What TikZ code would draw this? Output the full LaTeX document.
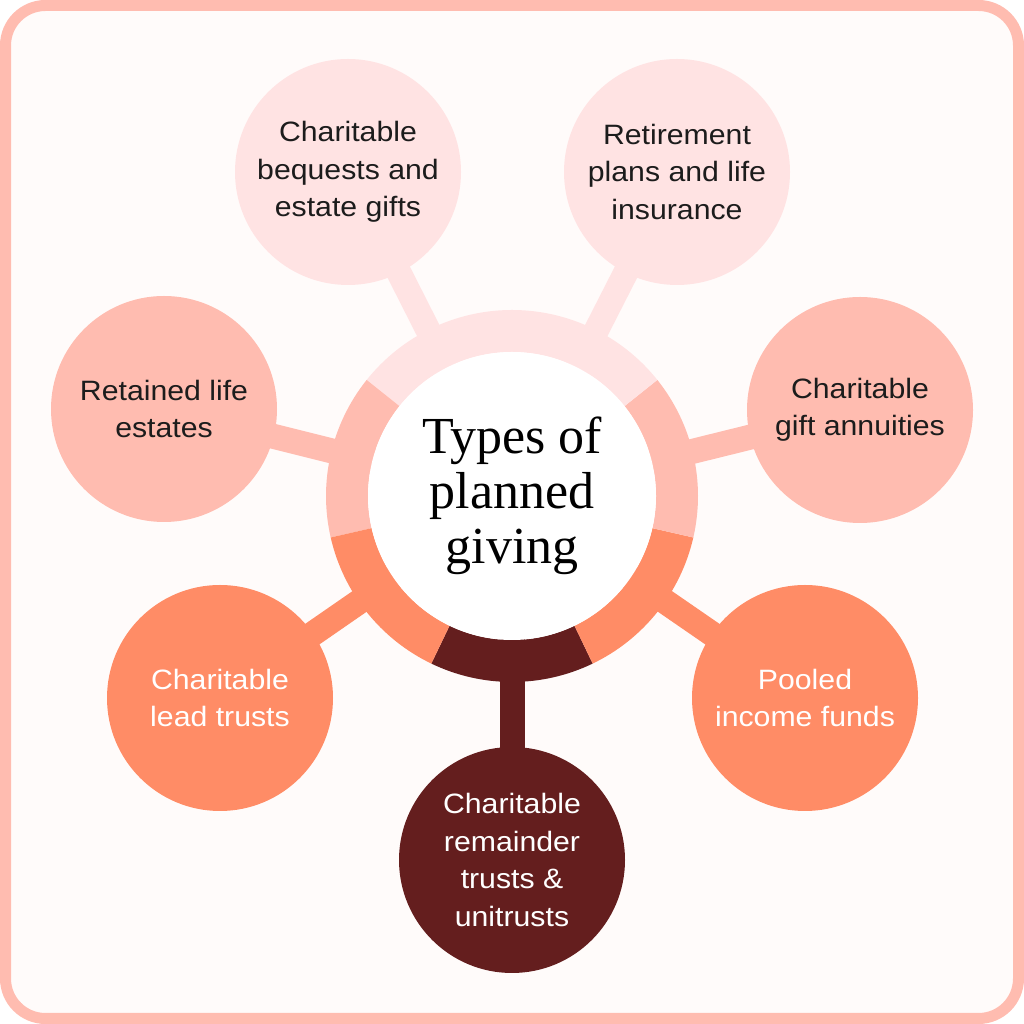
\documentclass[tikz,border=0pt]{standalone}
\usepackage{fontspec}
\setmainfont{Liberation Serif}
\newfontfamily\labelfont[FakeStretch=1.08]{Liberation Sans}
\usetikzlibrary{backgrounds}
\definecolor{clight}{HTML}{FFE3E3}
\definecolor{cmed}{HTML}{FFBCB0}
\definecolor{corange}{HTML}{FF8C66}
\definecolor{cdark}{HTML}{641E1E}
\definecolor{bgpink}{HTML}{FFFBFA}
\definecolor{textdark}{HTML}{1C1C1C}
\tikzset{
  bubble/.style={circle, minimum size=226pt, inner sep=0pt, align=center,
    font=\labelfont\fontsize{28}{37.5}\selectfont, text=textdark},
  hub/.style={circle, minimum size=288pt, inner sep=0pt, align=center, fill=white,
    font=\fontsize{52}{55}\selectfont, text=black},
  bar/.style={line width=25pt},
}
\begin{document}
\begin{tikzpicture}[x=1pt,y=1pt]
\useasboundingbox (0,0) rectangle (1024,1024);
% outer nodes
\node[bubble, fill=clight] (beq) at (348,852) {Charitable\\bequests and\\estate gifts};
\node[bubble, fill=clight] (ret) at (677,852) {Retirement\\plans and life\\insurance};
\node[bubble, fill=cmed] (gift) at (860,614) {Charitable\\gift annuities};
\node[bubble, fill=cmed] (rle) at (164,615) {Retained life\\estates};
\node[bubble, fill=corange, text=white] (lead) at (220,326) {Charitable\\lead trusts};
\node[bubble, fill=corange, text=white] (pool) at (805,326) {Pooled\\income funds};
\node[bubble, fill=cdark, text=white] (crt) at (512,164) {Charitable\\remainder\\trusts \&\\unitrusts};
% hub
\node[hub] (hub) at (512,528) {Types of\\planned\\giving};
\begin{pgfonlayer}{background}
  \fill[white] (0,0) rectangle (1024,1024);
  \draw[line width=11pt, draw=cmed, fill=bgpink, rounded corners=40pt] (5.5,5.5) rectangle (1018.5,1018.5);
  \draw[bar, clight] (hub.center) -- (beq.center);
  \draw[bar, clight] (hub.center) -- (ret.center);
  \draw[bar, cmed] (hub.center) -- (gift.center);
  \draw[bar, cmed] (hub.center) -- (rle.center);
  \draw[bar, corange] (hub.center) -- (lead.center);
  \draw[bar, corange] (hub.center) -- (pool.center);
  \draw[bar, cdark] (hub.center) -- (crt.center);
  \begin{scope}[shift={(512,528)}]
    \foreach \a/\b/\c in {-115.7/-64.3/cdark, -64.3/-12.9/corange, -12.9/38.6/cmed,
        38.6/90/clight, 90/141.4/clight, 141.4/192.9/cmed, 192.9/244.3/corange}{
      \fill[\c] (\a:186) arc[start angle=\a, end angle=\b, radius=186]
        -- (\b:144) arc[start angle=\b, end angle=\a, radius=144] -- cycle;
    }
  \end{scope}
\end{pgfonlayer}
\end{tikzpicture}
\end{document}
